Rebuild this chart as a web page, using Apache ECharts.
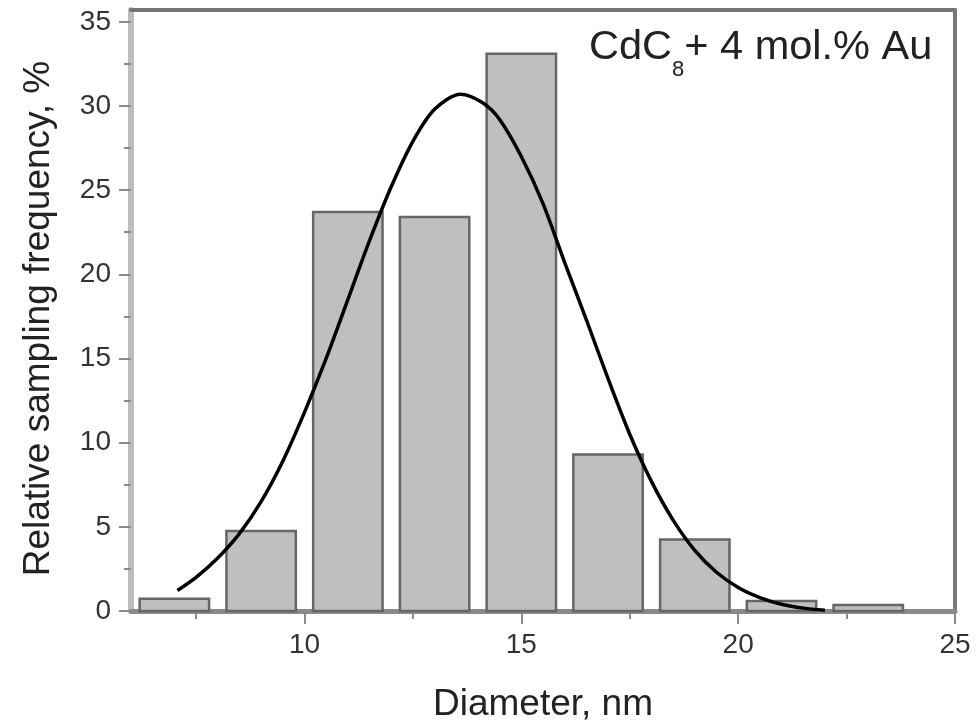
<!DOCTYPE html>
<html><head><meta charset="utf-8">
<script src="https://cdn.jsdelivr.net/npm/echarts@6/dist/echarts.min.js"></script>
<style>html,body{margin:0;padding:0;background:#fff}#c{width:978px;height:728px}</style>
</head><body><div id="c"></div>
<script>
// Histogram bins (diameter centre, nm) and relative frequency (%)
const binCenters = [7, 9, 11, 13, 15, 17, 19, 21, 23];
const binFreq = [0.73, 4.75, 23.7, 23.4, 33.1, 9.3, 4.25, 0.6, 0.35];
// Fitted curve, points
const fitX = [7.07, 7.5, 8.0, 8.5, 9.0, 9.5, 10.0, 10.5, 11.0, 11.5, 12.0, 12.5, 13.0, 13.6, 14.1, 14.5, 15.0, 15.5, 16.0, 16.5, 17.0, 17.5, 18.0, 18.5, 19.0, 19.5, 20.0, 20.5, 21.0, 21.5, 22.0];
const fitY = [1.22, 2.0, 3.15, 4.6, 6.5, 8.9, 11.8, 15.0, 18.5, 22.0, 25.2, 27.9, 29.8, 30.7, 30.2, 29.2, 27.0, 24.2, 20.7, 17.3, 13.8, 10.5, 7.7, 5.4, 3.6, 2.3, 1.4, 0.8, 0.4, 0.17, 0.05];
const xMajorTicks = [10, 15, 20, 25];
const xMinorTicks = [7.5, 12.5, 17.5, 22.5];
const yMajorTicks = [0, 5, 10, 15, 20, 25, 30, 35];
const yMinorTicks = [2.5, 7.5, 12.5, 17.5, 22.5, 27.5, 32.5];
const xTitle = 'Diameter, nm';
const yTitle = 'Relative sampling frequency, %';

const BIN_WIDTH = 1.6;
const FONT = "'Liberation Sans', Arial, sans-serif";
const X_MIN = 6, X_MAX = 25, Y_MIN = 0, Y_MAX = 35.7;

const chart = echarts.init(document.getElementById('c'), null, {renderer: 'canvas'});
const hidden = {axisLabel: {show: false}, splitLine: {show: false}};
chart.setOption({
  animation: false,
  backgroundColor: '#fff',
  grid: {left: 131, right: 23, top: 10, bottom: 114, containLabel: false},
  xAxis: [
    {type: 'value', min: X_MIN, max: X_MAX, position: 'bottom',
     axisLine: {onZero: false, lineStyle: {color: '#8a8a8a', width: 5}},
     axisTick: {customValues: xMajorTicks, length: 13, lineStyle: {color: '#8a8a8a', width: 2}},
     axisLabel: {customValues: xMajorTicks, margin: 20, fontSize: 28, color: '#333', fontFamily: FONT},
     splitLine: {show: false},
     name: xTitle, nameLocation: 'middle', nameGap: 75,
     nameTextStyle: {fontSize: 37, color: '#222', fontFamily: FONT}},
    Object.assign({type: 'value', min: X_MIN, max: X_MAX, position: 'bottom',
     axisLine: {show: false, onZero: false},
     axisTick: {customValues: xMinorTicks, length: 8, lineStyle: {color: '#8a8a8a', width: 2}}}, hidden),
    Object.assign({type: 'value', min: X_MIN, max: X_MAX, position: 'top',
     axisLine: {onZero: false, lineStyle: {color: '#777', width: 4}},
     axisTick: {show: false}}, hidden)
  ],
  yAxis: [
    {type: 'value', min: Y_MIN, max: Y_MAX, position: 'left',
     axisLine: {show: true, onZero: false, lineStyle: {color: '#bdbdbd', width: 6}},
     axisTick: {show: true, customValues: yMajorTicks, length: 12, lineStyle: {color: '#8a8a8a', width: 2}},
     axisLabel: {customValues: yMajorTicks, margin: 20, fontSize: 28, color: '#333', fontFamily: FONT},
     splitLine: {show: false},
     name: yTitle, nameLocation: 'middle', nameGap: 74,
     nameTextStyle: {fontSize: 37, color: '#222', fontFamily: FONT, padding: [0, 16, 0, 0]}},
    Object.assign({type: 'value', min: Y_MIN, max: Y_MAX, position: 'left',
     axisLine: {show: false, onZero: false},
     axisTick: {show: true, customValues: yMinorTicks, length: 7, lineStyle: {color: '#8a8a8a', width: 2}}}, hidden),
    Object.assign({type: 'value', min: Y_MIN, max: Y_MAX, position: 'right',
     axisLine: {show: true, onZero: false, lineStyle: {color: '#777', width: 4}},
     axisTick: {show: false}}, hidden)
  ],
  series: [
    {type: 'custom', xAxisIndex: 0, yAxisIndex: 0, z: 2,
     data: binCenters.map((c, i) => [c, binFreq[i]]),
     encode: {x: 0, y: 1},
     renderItem: function (params, api) {
       const x = api.value(0), y = api.value(1);
       const p0 = api.coord([x - BIN_WIDTH / 2, y]);
       const p1 = api.coord([x + BIN_WIDTH / 2, 0]);
       return {type: 'rect',
         shape: {x: p0[0], y: p0[1], width: p1[0] - p0[0], height: p1[1] - p0[1]},
         style: {fill: '#bfbfbf', stroke: '#666', lineWidth: 2.5}};
     }},
    {type: 'line', xAxisIndex: 0, yAxisIndex: 0, z: 5,
     data: fitX.map((x, i) => [x, fitY[i]]),
     smooth: 0.3, showSymbol: false, symbol: 'none',
     lineStyle: {color: '#000', width: 3.5}}
  ],
  graphic: [
    {type: 'text', left: 589, top: 27, z: 10,
     style: {text: '{a|CdC}{s|8}{a|+ 4 mol.% Au}',
       rich: {
         a: {fontSize: 41.5, lineHeight: 66, fontFamily: FONT, fill: '#222'},
         s: {fontSize: 22, lineHeight: 22, verticalAlign: 'bottom', fontFamily: FONT, fill: '#222'}
       }}}
  ]
});
</script></body></html>
